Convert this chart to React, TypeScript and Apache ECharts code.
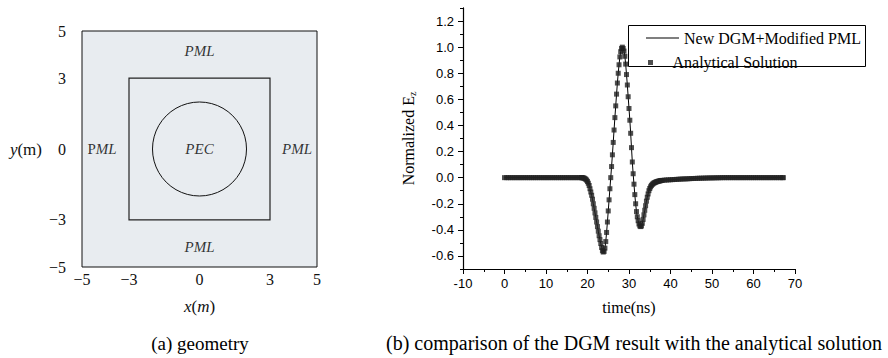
import React, { useEffect, useRef } from "react";
import * as echarts from "echarts";

// ---------- (a) geometry ----------
const geoTickValues = [-5, -3, 0, 3, 5];
const outerHalfWidth = 5; // PML outer boundary (m)
const innerHalfWidth = 3; // PML inner boundary (m)
const pecRadius = 2; // PEC cylinder radius (m)
const regionLabels = [
  { text: "{it|PML}", x: 0, y: 4.15 },
  { text: "{it|PML}", x: 0, y: -4.15 },
  { text: "P{it|ML}", x: -4.15, y: 0 },
  { text: "{it|PML}", x: 4.15, y: 0 },
  { text: "{it|PEC}", x: 0, y: 0 },
];

// ---------- (b) comparison ----------
const xRange = [-10, 70];
const yRange = [-0.7, 1.3];
const xTickLabels = [-10, 0, 10, 20, 30, 40, 50, 60, 70];
const yTickLabels = [-0.6, -0.4, -0.2, 0, 0.2, 0.4, 0.6, 0.8, 1.0, 1.2];
const seriesNames = ["New DGM+Modified PML", "Analytical Solution"];

// time (ns), normalized Ez
const leadIn: [number, number][] = [
  [0, 0], [0.5, 0], [1, 0], [1.5, 0], [2, 0], [2.5, 0], [3, 0], [3.5, 0], [4, 0], [4.5, 0],
  [5, 0], [5.5, 0], [6, 0], [6.5, 0], [7, 0], [7.5, 0], [8, 0], [8.5, 0], [9, 0], [9.5, 0],
  [10, 0], [10.5, 0], [11, 0], [11.5, 0], [12, 0], [12.5, 0], [13, 0], [13.5, 0], [14, 0], [14.5, 0],
  [15, 0], [15.5, 0], [16, 0], [16.5, 0], [17, 0], [17.5, 0], [18, 0], [18.5, 0],
];
const pulse: [number, number][] = [
  [18.6, 0], [18.8, -0.001], [19.0, -0.002], [19.2, -0.004], [19.4, -0.008], [19.6, -0.013],
  [19.8, -0.02], [20.0, -0.03], [20.2, -0.043], [20.4, -0.06], [20.6, -0.085], [20.8, -0.11],
  [21.0, -0.135], [21.2, -0.165], [21.4, -0.2], [21.6, -0.235], [21.8, -0.27], [22.0, -0.305],
  [22.2, -0.34], [22.4, -0.375], [22.6, -0.41], [22.8, -0.445], [23.0, -0.475], [23.2, -0.505],
  [23.4, -0.535], [23.6, -0.56], [23.8, -0.57], [24.0, -0.565], [24.2, -0.54], [24.4, -0.49],
  [24.6, -0.42], [24.8, -0.34], [25.0, -0.255], [25.2, -0.17], [25.4, -0.085], [25.6, 0],
  [25.8, 0.085], [26.0, 0.175], [26.2, 0.27], [26.4, 0.365], [26.6, 0.46], [26.8, 0.55],
  [27.0, 0.64], [27.2, 0.725], [27.4, 0.8], [27.6, 0.865], [27.8, 0.925], [28.0, 0.965],
  [28.2, 0.99], [28.4, 1.0], [28.6, 0.99], [28.8, 0.97], [29.0, 0.93], [29.2, 0.87],
  [29.4, 0.79], [29.6, 0.71], [29.8, 0.62], [30.0, 0.53], [30.2, 0.44], [30.4, 0.34],
  [30.6, 0.23], [30.8, 0.12], [31.0, 0.03], [31.2, -0.05], [31.4, -0.13], [31.6, -0.2],
  [31.8, -0.26], [32.0, -0.3], [32.2, -0.33], [32.4, -0.355], [32.6, -0.37], [32.8, -0.375],
  [33.0, -0.37], [33.2, -0.35], [33.4, -0.32], [33.6, -0.285], [33.8, -0.25], [34.0, -0.215],
  [34.2, -0.18], [34.4, -0.15], [34.6, -0.125], [34.8, -0.1], [35.0, -0.083], [35.2, -0.07],
  [35.4, -0.06], [35.6, -0.052], [35.8, -0.046], [36.0, -0.041], [36.2, -0.038], [36.4, -0.035],
  [36.6, -0.032], [36.8, -0.03], [37.0, -0.028], [37.2, -0.026], [37.4, -0.025], [37.6, -0.023],
  [37.8, -0.022], [38.0, -0.021],
];
const tail: [number, number][] = [
  [38.5, -0.019], [39, -0.018], [39.5, -0.017], [40, -0.016], [40.5, -0.015], [41, -0.014],
  [41.5, -0.013], [42, -0.012], [42.5, -0.011], [43, -0.01], [43.5, -0.0095], [44, -0.009],
  [44.5, -0.008], [45, -0.007], [45.5, -0.0065], [46, -0.006], [46.5, -0.005], [47, -0.0045],
  [47.5, -0.004], [48, -0.0035], [48.5, -0.003], [49, -0.0025], [49.5, -0.002], [50, -0.002],
  [50.5, -0.0015], [51, -0.001], [51.5, -0.001], [52, -0.0005], [52.5, 0], [53, 0], [53.5, 0],
  [54, 0], [54.5, 0], [55, 0], [55.5, 0], [56, 0], [56.5, 0], [57, 0], [57.5, 0], [58, 0],
  [58.5, 0], [59, 0], [59.5, 0], [60, 0], [60.5, 0], [61, 0], [61.5, 0], [62, 0], [62.5, 0],
  [63, 0], [63.5, 0], [64, 0], [64.5, 0], [65, 0], [65.5, 0], [66, 0], [66.5, 0], [67, 0],
  [67.2, 0],
];

const SERIF = '"Liberation Serif", "Times New Roman", serif';
const SANS = '"Liberation Sans", Arial, sans-serif';

const minusFmt = (v: number) => (v < 0 ? "\u2212" + Math.abs(v) : String(v));

export default function App() {
  const ref = useRef<HTMLDivElement>(null);

  useEffect(() => {
    if (!ref.current) return;
    const chart = echarts.init(ref.current, null, { renderer: "svg" });
    const waveform = [...leadIn, ...pulse, ...tail];

    const option: any = {
      animation: false,
      backgroundColor: "#ffffff",
      grid: [
        { left: 82, top: 31, width: 235, height: 236, outerBoundsMode: "none", containLabel: false },
        { left: 463, top: 8, width: 332, height: 261, outerBoundsMode: "none", containLabel: false },
      ],
      xAxis: [
        {
          type: "value",
          gridIndex: 0,
          min: -outerHalfWidth,
          max: outerHalfWidth,
          axisLine: { show: false, onZero: false },
          axisTick: { show: false },
          splitLine: { show: false },
          axisLabel: {
            customValues: geoTickValues,
            formatter: minusFmt,
            fontFamily: SERIF,
            fontSize: 16,
            color: "#111",
            margin: 4,
          },
          name: "{it|x}({it|m})",
          nameLocation: "middle",
          nameGap: 31,
          nameMoveOverlap: false,
          nameTextStyle: {
            fontFamily: SERIF,
            fontSize: 17,
            color: "#111",
            rich: { it: { fontFamily: SERIF, fontSize: 17, fontStyle: "italic", color: "#111" } },
          },
        },
        {
          type: "value",
          gridIndex: 1,
          min: xRange[0],
          max: xRange[1],
          interval: 10,
          axisLine: { show: true, onZero: false, lineStyle: { color: "#000", width: 1 } },
          axisTick: { show: true, length: 5, lineStyle: { color: "#000" } },
          minorTick: { show: true, splitNumber: 2, length: 3, lineStyle: { color: "#000" } },
          splitLine: { show: false },
          minorSplitLine: { show: false },
          axisLabel: {
            customValues: xTickLabels,
            fontFamily: SANS,
            fontSize: 13,
            color: "#000",
            margin: 8,
          },
          name: "time(ns)",
          nameLocation: "middle",
          nameGap: 30,
          nameMoveOverlap: false,
          nameTextStyle: { fontFamily: SERIF, fontSize: 16, color: "#000" },
        },
      ],
      yAxis: [
        {
          type: "value",
          gridIndex: 0,
          min: -outerHalfWidth,
          max: outerHalfWidth,
          axisLine: { show: false, onZero: false },
          axisTick: { show: false },
          splitLine: { show: false },
          axisLabel: {
            customValues: geoTickValues,
            formatter: minusFmt,
            fontFamily: SERIF,
            fontSize: 16,
            color: "#111",
            margin: 16,
          },
          name: "{it|y}(m)",
          nameLocation: "middle",
          nameRotate: 0,
          nameGap: 40,
          nameMoveOverlap: false,
          nameTextStyle: {
            fontFamily: SERIF,
            fontSize: 17,
            color: "#111",
            rich: { it: { fontFamily: SERIF, fontSize: 17, fontStyle: "italic", color: "#111" } },
          },
        },
        {
          type: "value",
          gridIndex: 1,
          min: yRange[0],
          max: yRange[1],
          interval: 0.1,
          position: "left",
          axisLine: { show: true, onZero: false, lineStyle: { color: "#000", width: 1 } },
          axisTick: { show: true, length: 3, lineStyle: { color: "#000" } },
          splitLine: { show: false },
          axisLabel: {
            customValues: yTickLabels,
            formatter: (v: number) => v.toFixed(1),
            fontFamily: SANS,
            fontSize: 13,
            color: "#000",
            margin: 9,
          },
          name: "Normalized E{sub|z}",
          nameLocation: "middle",
          nameGap: 46,
          nameMoveOverlap: false,
          nameTextStyle: {
            fontFamily: SERIF,
            fontSize: 16,
            color: "#000",
            rich: {
              sub: { fontFamily: SERIF, fontSize: 10, color: "#000", verticalAlign: "bottom", padding: [8, 0, 0, 0] },
            },
          },
        },
        {
          type: "value",
          gridIndex: 1,
          min: yRange[0],
          max: yRange[1],
          position: "left",
          axisLine: { show: true, onZero: false, lineStyle: { color: "#000", width: 1 } },
          axisTick: { show: true, length: 5, customValues: yTickLabels, lineStyle: { color: "#000" } },
          axisLabel: { show: false },
          splitLine: { show: false },
        },
      ],
      legend: [
        {
          data: [{ name: seriesNames[0], icon: "path://M0,0H34V1H0Z" }],
          left: 646,
          top: 30,
          padding: 0,
          itemWidth: 33,
          itemHeight: 14,
          selectedMode: false,
          textStyle: { fontFamily: SERIF, fontSize: 16, color: "#000" },
        },
        {
          data: [{ name: seriesNames[1], icon: "path://M0,0H5V5H0Z" }],
          left: 648,
          top: 54.5,
          padding: 0,
          itemWidth: 34,
          itemHeight: 5,
          selectedMode: false,
          textStyle: { fontFamily: SERIF, fontSize: 16, color: "#000" },
        },
      ],
      graphic: [
        {
          type: "rect",
          z: 0,
          shape: { x: 628.5, y: 25.5, width: 237, height: 41 },
          style: { fill: "#ffffff", stroke: "#000", lineWidth: 1 },
        },
        {
          type: "text",
          x: 200,
          y: 343,
          style: {
            text: "(a) geometry",
            fontFamily: SERIF,
            fontSize: 19,
            fill: "#000",
            align: "center",
            verticalAlign: "middle",
          },
        },
        {
          type: "text",
          x: 634,
          y: 343,
          style: {
            text: "(b) comparison of the DGM result with the analytical solution",
            fontFamily: SERIF,
            fontSize: 20,
            fill: "#000",
            align: "center",
            verticalAlign: "middle",
          },
        },
      ],
      series: [
        {
          type: "custom",
          name: "geometry",
          xAxisIndex: 0,
          yAxisIndex: 0,
          silent: true,
          clip: false,
          data: [[0, 0]],
          renderItem: (_params: any, api: any) => {
            const tl = api.coord([-outerHalfWidth, outerHalfWidth]);
            const br = api.coord([outerHalfWidth, -outerHalfWidth]);
            const itl = api.coord([-innerHalfWidth, innerHalfWidth]);
            const ibr = api.coord([innerHalfWidth, -innerHalfWidth]);
            const c = api.coord([0, 0]);
            const r = api.size([pecRadius, 0])[0];
            return {
              type: "group",
              children: [
                {
                  type: "rect",
                  shape: { x: tl[0], y: tl[1], width: br[0] - tl[0], height: br[1] - tl[1] },
                  style: { fill: "#e8ecf0", stroke: "#111", lineWidth: 1 },
                },
                {
                  type: "rect",
                  shape: { x: itl[0], y: itl[1], width: ibr[0] - itl[0], height: ibr[1] - itl[1] },
                  style: { fill: "none", stroke: "#222", lineWidth: 1.2 },
                },
                {
                  type: "circle",
                  shape: { cx: c[0], cy: c[1], r },
                  style: { fill: "none", stroke: "#111", lineWidth: 1 },
                },
              ],
            };
          },
        },
        {
          type: "scatter",
          name: "regions",
          xAxisIndex: 0,
          yAxisIndex: 0,
          silent: true,
          symbolSize: 1,
          itemStyle: { color: "transparent" },
          z: 5,
          data: regionLabels.map((d) => ({ value: [d.x, d.y], name: d.text })),
          label: {
            show: true,
            position: "inside",
            formatter: (p: any) => p.name,
            fontFamily: SERIF,
            fontSize: 15,
            color: "#000",
            textBorderWidth: 0,
            rich: {
              it: { fontFamily: SERIF, fontSize: 15, fontStyle: "italic", color: "#000", textBorderWidth: 0 },
            },
          },
        },
        {
          type: "line",
          name: seriesNames[0],
          xAxisIndex: 1,
          yAxisIndex: 1,
          data: waveform,
          symbol: "none",
          showSymbol: false,
          clip: false,
          lineStyle: { color: "#000", width: 1 },
          itemStyle: { color: "#000" },
          z: 2,
          markLine: {
            silent: true,
            symbol: "none",
            animation: false,
            label: { show: false },
            lineStyle: { color: "#000", width: 1.2, type: "solid" },
            emphasis: { disabled: true },
            data: [{ xAxis: xRange[0] }],
          },
        },
        {
          type: "scatter",
          name: seriesNames[1],
          xAxisIndex: 1,
          yAxisIndex: 1,
          data: waveform,
          symbol: "rect",
          symbolSize: 5,
          itemStyle: { color: "#222" },
          z: 3,
        },
      ],
    };

    chart.setOption(option);
    return () => chart.dispose();
  }, []);

  return (
    <div
      ref={ref}
      style={{ position: "absolute", left: 0, top: 0, width: 888, height: 358, background: "#fff" }}
    />
  );
}
